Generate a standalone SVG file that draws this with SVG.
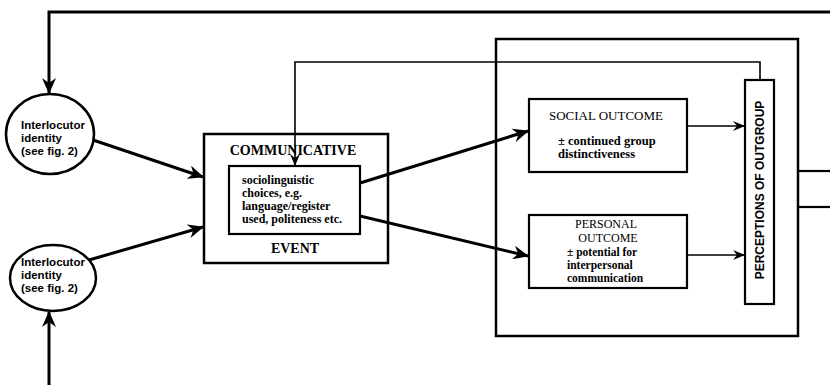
<svg xmlns="http://www.w3.org/2000/svg" width="830" height="385" viewBox="0 0 830 385">
<defs>
<style>
.box{fill:#fff;stroke:#000;stroke-width:2.5}
.ibox{fill:#fff;stroke:#000;stroke-width:2.2}
.thick{fill:none;stroke:#000;stroke-width:3}
.thin{fill:none;stroke:#000;stroke-width:1.6}
.sans{font-family:"Liberation Sans",Arial,sans-serif;fill:#000}
.serif{font-family:"Liberation Serif","Times New Roman",serif;fill:#000}
</style>
<marker id="bigArrow" viewBox="0 0 16 14" refX="15" refY="7" markerWidth="16" markerHeight="14" markerUnits="userSpaceOnUse" orient="auto">
<path d="M0,0 L16,7 L0,14 L5,7 z" fill="#000"/>
</marker>
<marker id="smallArrow" viewBox="0 0 12 10" refX="11" refY="5" markerWidth="12" markerHeight="10" markerUnits="userSpaceOnUse" orient="auto">
<path d="M0,0 L12,5 L0,10 L4,5 z" fill="#000"/>
</marker>
</defs>
<rect width="830" height="385" fill="#fff"/>

<g id="outcomes-frame">
<rect class="box" x="496" y="39" width="302" height="297"/>
</g>

<g id="interlocutor-1">
<ellipse class="box" cx="50" cy="134" rx="44" ry="40"/>
<text class="sans" font-size="11.5" font-weight="bold" x="21" y="129">Interlocutor</text>
<text class="sans" font-size="11.5" font-weight="bold" x="21" y="142">identity</text>
<text class="sans" font-size="11.5" font-weight="bold" x="21" y="155">(see fig. 2)</text>
</g>

<g id="interlocutor-2">
<ellipse class="box" cx="53" cy="278" rx="43" ry="33"/>
<text class="sans" font-size="11.5" font-weight="bold" x="21" y="266">Interlocutor</text>
<text class="sans" font-size="11.5" font-weight="bold" x="21" y="279">identity</text>
<text class="sans" font-size="11.5" font-weight="bold" x="21" y="292">(see fig. 2)</text>
</g>

<g id="communicative-event">
<rect class="box" x="204" y="134" width="184" height="129"/>
<text class="serif" font-size="14" font-weight="bold" x="293" y="155" text-anchor="middle">COMMUNICATIVE</text>
<text class="serif" font-size="14" font-weight="bold" x="295" y="253" text-anchor="middle">EVENT</text>
</g>

<g id="sociolinguistic-choices">
<rect class="ibox" x="229" y="166" width="131" height="68"/>
<text class="serif" font-size="12" font-weight="bold" x="242" y="184">sociolinguistic</text>
<text class="serif" font-size="12" font-weight="bold" x="242" y="197">choices, e.g.</text>
<text class="serif" font-size="12" font-weight="bold" x="242" y="210">language/register</text>
<text class="serif" font-size="12" font-weight="bold" x="242" y="223">used, politeness etc.</text>
</g>

<g id="social-outcome">
<rect class="ibox" x="529" y="99" width="158" height="73"/>
<text class="serif" font-size="13" x="606" y="120" text-anchor="middle">SOCIAL OUTCOME</text>
<text class="serif" font-size="12.5" font-weight="bold" x="558" y="145">± continued group</text>
<text class="serif" font-size="12.5" font-weight="bold" x="558" y="158">distinctiveness</text>
</g>

<g id="personal-outcome">
<rect class="ibox" x="529" y="215" width="158" height="73"/>
<text class="serif" font-size="12" x="606" y="228" text-anchor="middle">PERSONAL</text>
<text class="serif" font-size="12" x="608" y="242" text-anchor="middle">OUTCOME</text>
<text class="serif" font-size="11.5" font-weight="bold" x="567" y="256">± potential for</text>
<text class="serif" font-size="11.5" font-weight="bold" x="567" y="269">interpersonal</text>
<text class="serif" font-size="11.5" font-weight="bold" x="567" y="282">communication</text>
</g>

<g id="perceptions-of-outgroup">
<rect class="ibox" x="745" y="80" width="29" height="224"/>
<text class="sans" font-size="12" font-weight="bold" transform="translate(764,190) rotate(-90)" text-anchor="middle">PERCEPTIONS OF OUTGROUP</text>
</g>

<g id="connectors">
<polyline class="thick" points="830,12 49,12 49,93" marker-end="url(#bigArrow)"/>
<line class="thick" x1="49" y1="385" x2="49" y2="312" marker-end="url(#bigArrow)"/>
<line class="thick" x1="93" y1="140" x2="203" y2="177" marker-end="url(#bigArrow)"/>
<line class="thick" x1="89" y1="260" x2="203" y2="227" marker-end="url(#bigArrow)"/>
<line class="thick" x1="360" y1="183" x2="528" y2="131" marker-end="url(#bigArrow)"/>
<line class="thick" x1="360" y1="216" x2="528" y2="256" marker-end="url(#bigArrow)"/>
<line class="thin" x1="687" y1="126" x2="744" y2="126" marker-end="url(#smallArrow)"/>
<line class="thin" x1="687" y1="255" x2="744" y2="255" marker-end="url(#smallArrow)"/>
<polyline class="thin" points="760,80 760,62 295,62 295,165" marker-end="url(#smallArrow)"/>
<line class="thick" x1="798" y1="171" x2="830" y2="171" style="stroke-width:2.2"/>
<line class="thick" x1="798" y1="207" x2="830" y2="207" style="stroke-width:2.2"/>
</g>
</svg>
